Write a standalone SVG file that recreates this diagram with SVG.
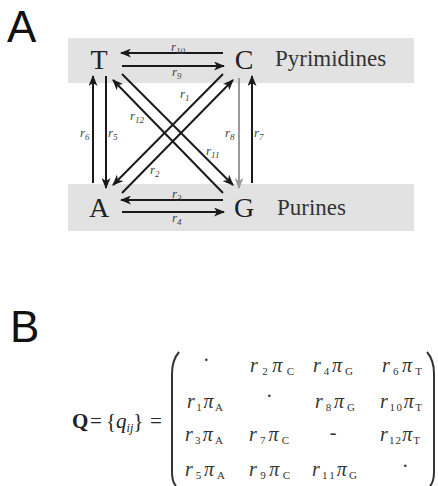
<svg xmlns="http://www.w3.org/2000/svg" width="438" height="486" viewBox="0 0 438 486">
<style>
.panel{font-family:"Liberation Sans",Arial,sans-serif;font-size:44px;fill:#111}
.nuc{font-family:"Liberation Serif","Times New Roman",serif;font-size:28px;fill:#222;text-anchor:middle}
.grp{font-family:"Liberation Serif","Times New Roman",serif;font-size:23px;fill:#333}
.lbl{font-family:"Liberation Serif","Times New Roman",serif;font-style:italic;font-size:13px;fill:#444}
.sub{font-size:9px}
.ar{stroke:#1a1a1a;stroke-width:2;fill:none;marker-end:url(#ah)}
.gr{stroke:#9a9a9a;stroke-width:2;fill:none;marker-end:url(#ahg)}
.band{fill:#e2e2e2}
.m{font-family:"Liberation Serif","Times New Roman",serif;font-style:italic;font-size:20px;fill:#333}
.ms{font-size:11px;font-style:normal}
.eq{font-family:"Liberation Serif","Times New Roman",serif;font-size:21px;fill:#222}
.par{stroke:#333;stroke-width:2;fill:none}
</style>
<defs>
<marker id="ah" markerWidth="11" markerHeight="9" refX="10" refY="4.5" orient="auto" markerUnits="userSpaceOnUse">
<path d="M0,0 L11,4.5 L0,9 L3,4.5 z" fill="#1a1a1a"/>
</marker>
<marker id="ahg" markerWidth="11" markerHeight="9" refX="10" refY="4.5" orient="auto" markerUnits="userSpaceOnUse">
<path d="M0,0 L11,4.5 L0,9 L3,4.5 z" fill="#9a9a9a"/>
</marker>
</defs>
<rect width="438" height="486" fill="#fff"/>
<text class="panel" x="7" y="42">A</text>
<text class="panel" x="10" y="342">B</text>

<rect class="band" x="68" y="38" width="346" height="45"/>
<rect class="band" x="68" y="184" width="346" height="47"/>
<text class="grp" x="275" y="66">Pyrimidines</text>
<text class="grp" x="277" y="215">Purines</text>

<g id="edges">
<line class="ar" x1="223" y1="53" x2="121" y2="53"/>
<line class="ar" x1="122" y1="66" x2="224" y2="66"/>
<line class="ar" x1="223" y1="200" x2="121" y2="200"/>
<line class="ar" x1="122" y1="212" x2="224" y2="212"/>
<line class="ar" x1="93" y1="183" x2="93" y2="76"/>
<line class="ar" x1="106" y1="76" x2="106" y2="188"/>
<line class="gr" x1="239" y1="78" x2="239" y2="188"/>
<line class="ar" x1="252" y1="183" x2="252" y2="76"/>
<line class="ar" x1="122" y1="74" x2="233" y2="185"/>
<line class="ar" x1="223" y1="193" x2="113" y2="80"/>
<line class="ar" x1="223" y1="74" x2="113" y2="185"/>
<line class="ar" x1="122" y1="193" x2="233" y2="80"/>
<text class="lbl" x="171" y="51">r<tspan class="sub" dy="3">10</tspan></text>
<text class="lbl" x="172" y="76">r<tspan class="sub" dy="3">9</tspan></text>
<text class="lbl" x="172" y="198">r<tspan class="sub" dy="3">3</tspan></text>
<text class="lbl" x="172" y="222">r<tspan class="sub" dy="3">4</tspan></text>
<text class="lbl" x="80" y="137">r<tspan class="sub" dy="3">6</tspan></text>
<text class="lbl" x="108" y="137">r<tspan class="sub" dy="3">5</tspan></text>
<text class="lbl" x="225" y="137">r<tspan class="sub" dy="3">8</tspan></text>
<text class="lbl" x="254" y="137">r<tspan class="sub" dy="3">7</tspan></text>
<text class="lbl" x="180" y="98">r<tspan class="sub" dy="3">1</tspan></text>
<text class="lbl" x="130" y="120">r<tspan class="sub" dy="3">12</tspan></text>
<text class="lbl" x="206" y="155">r<tspan class="sub" dy="3">11</tspan></text>
<text class="lbl" x="150" y="174">r<tspan class="sub" dy="3">2</tspan></text>
</g>

<g id="T"><text class="nuc" x="99" y="69">T</text></g>
<g id="C"><text class="nuc" x="244" y="69">C</text></g>
<g id="A"><text class="nuc" x="99" y="217">A</text></g>
<g id="G"><text class="nuc" x="244" y="217">G</text></g>

<g id="matrix">
<text class="eq" x="72" y="428"><tspan font-weight="bold">Q</tspan></text>
<text class="eq" x="90" y="428">=</text>
<text class="eq" x="106" y="428">{<tspan font-style="italic">q</tspan><tspan font-size="12" font-style="italic" dy="4">ij</tspan><tspan dy="-4">}</tspan></text>
<text class="eq" x="150" y="428">=</text>
<path class="par" d="M179,352 Q172,360 172,374 L172,472 Q172,482 176,486"/>
<path class="par" d="M427,352 Q434,360 434,374 L434,472 Q434,482 430,486"/>

<text class="m" x="206" y="367" text-anchor="middle">·</text>
<text class="m" x="250" y="372" textLength="44" lengthAdjust="spacing">r<tspan class="ms" dy="3">2</tspan><tspan dy="-3">π</tspan><tspan class="ms" dy="3">C</tspan></text>
<text class="m" x="313" y="372" textLength="40" lengthAdjust="spacing">r<tspan class="ms" dy="3">4</tspan><tspan dy="-3">π</tspan><tspan class="ms" dy="3">G</tspan></text>
<text class="m" x="382" y="372" textLength="40" lengthAdjust="spacing">r<tspan class="ms" dy="3">6</tspan><tspan dy="-3">π</tspan><tspan class="ms" dy="3">T</tspan></text>

<text class="m" x="187" y="408" textLength="36" lengthAdjust="spacing">r<tspan class="ms" dy="3">1</tspan><tspan dy="-3">π</tspan><tspan class="ms" dy="3">A</tspan></text>
<text class="m" x="269" y="403" text-anchor="middle">·</text>
<text class="m" x="315" y="408" textLength="40" lengthAdjust="spacing">r<tspan class="ms" dy="3">8</tspan><tspan dy="-3">π</tspan><tspan class="ms" dy="3">G</tspan></text>
<text class="m" x="380" y="408" textLength="42" lengthAdjust="spacing">r<tspan class="ms" dy="3">10</tspan><tspan dy="-3">π</tspan><tspan class="ms" dy="3">T</tspan></text>

<text class="m" x="185" y="441" textLength="38" lengthAdjust="spacing">r<tspan class="ms" dy="3">3</tspan><tspan dy="-3">π</tspan><tspan class="ms" dy="3">A</tspan></text>
<text class="m" x="249" y="441" textLength="40" lengthAdjust="spacing">r<tspan class="ms" dy="3">7</tspan><tspan dy="-3">π</tspan><tspan class="ms" dy="3">C</tspan></text>
<text class="m" x="333" y="439" text-anchor="middle">-</text>
<text class="m" x="380" y="441" textLength="40" lengthAdjust="spacing">r<tspan class="ms" dy="3">12</tspan><tspan dy="-3">π</tspan><tspan class="ms" dy="3">T</tspan></text>

<text class="m" x="185" y="476" textLength="40" lengthAdjust="spacing">r<tspan class="ms" dy="3">5</tspan><tspan dy="-3">π</tspan><tspan class="ms" dy="3">A</tspan></text>
<text class="m" x="249" y="476" textLength="41" lengthAdjust="spacing">r<tspan class="ms" dy="3">9</tspan><tspan dy="-3">π</tspan><tspan class="ms" dy="3">C</tspan></text>
<text class="m" x="312" y="476" textLength="45" lengthAdjust="spacing">r<tspan class="ms" dy="3">11</tspan><tspan dy="-3">π</tspan><tspan class="ms" dy="3">G</tspan></text>
<text class="m" x="405" y="473" text-anchor="middle">·</text>
</g>
</svg>
